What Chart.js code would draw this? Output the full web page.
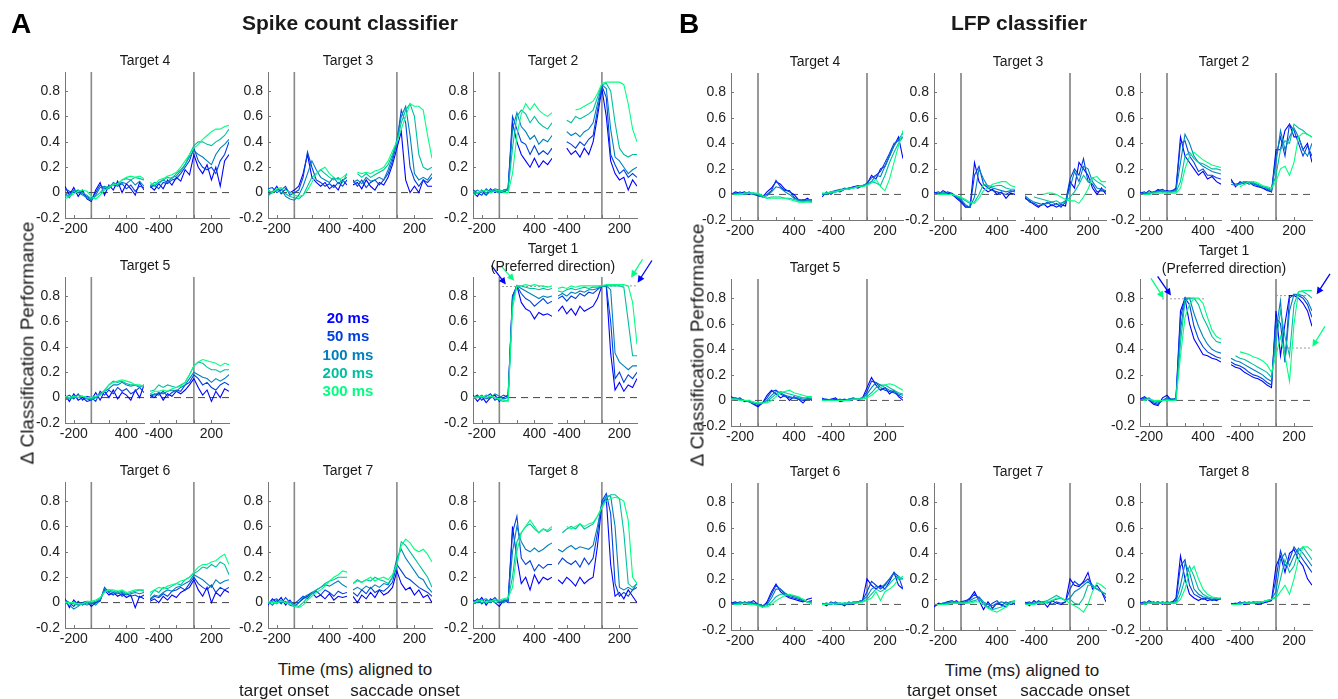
<!DOCTYPE html>
<html>
<head>
<meta charset="utf-8">
<script src="https://cdn.jsdelivr.net/npm/chart.js@4.4.1/dist/chart.umd.min.js"></script>
<style>
  body { margin: 0; background: #fff; }
  #fig { position: relative; width: 1338px; height: 699px; overflow: hidden; font-family: "Liberation Sans", Arial, sans-serif; color: #1a1a1a; }
  #fig canvas { position: absolute; }
  .txt { position: absolute; white-space: nowrap; transform: translate(-50%, -50%); line-height: 1; }
</style>
</head>
<body>
<div id="fig"></div>
<script>
// time bins (ms)
const tgtTimes = [-300,-250,-200,-150,-100,-50,0,50,100,150,200,250,300,350,400,450,500,550,600];
const sacTimes = [-500,-450,-400,-350,-300,-250,-200,-150,-100,-50,0,50,100,150,200,250,300,350,400];
const windowLabels = ["20 ms", "50 ms", "100 ms", "200 ms", "300 ms"];
const yTickValues = [-0.2, 0, 0.2, 0.4, 0.6, 0.8];
const tgtTickValues = [-200, 0, 200, 400];
const tgtTickLabels = [-200, 400];
const sacTickValues = [-400, -200, 0, 200];
const sacTickLabels = [-400, 200];

// ---- Spike count classifier: rows are 20, 50, 100, 200, 300 ms windows
const spk4T = [
  [.05,-.02,.04,-.03,.02,-.05,-.07,.02,.08,-.02,.06,.02,.09,.0,.07,.03,-.02,.08,.02],
  [.03,.01,.0,.02,-.01,-.03,-.05,.0,.06,.03,.04,.06,.05,.07,.03,.06,.01,.05,.04],
  [.0,-.04,.02,.0,-.02,-.04,-.06,-.02,.04,.05,.03,.08,.06,.08,.07,.1,.06,.09,.05],
  [-.03,-.02,.01,.02,.0,-.02,-.05,-.03,.0,.04,.05,.07,.06,.1,.11,.1,.12,.11,.1],
  [-.05,-.03,-.01,.01,.02,.01,-.03,-.05,-.02,.02,.04,.06,.07,.1,.12,.13,.12,.13,.11]];
const spk4S = [
  [.05,.02,.07,.03,.1,.06,.12,.09,.18,.14,.3,.2,.15,.22,.1,.2,.05,.25,.3],
  [.04,.06,.03,.08,.07,.1,.11,.15,.2,.25,.35,.25,.2,.18,.2,.15,.25,.3,.4],
  [.06,.05,.08,.1,.08,.12,.13,.17,.22,.28,.33,.3,.28,.25,.22,.3,.35,.38,.42],
  [.05,.08,.07,.1,.12,.11,.15,.18,.22,.3,.37,.4,.4,.38,.37,.4,.42,.45,.5],
  [.08,.06,.1,.11,.13,.14,.16,.2,.25,.3,.35,.38,.42,.45,.48,.5,.5,.52,.53]];
const spk3T = [
  [.02,.0,.05,-.01,.03,.0,.02,.05,.15,.3,.12,.08,.05,.08,.03,.06,.02,.1,.06],
  [.03,.04,.0,.02,.05,-.02,.0,.02,.12,.32,.2,.1,.08,.05,.07,.04,.08,.05,.1],
  [-.02,.0,.02,.03,-.03,-.05,-.06,-.02,.05,.15,.25,.18,.12,.1,.08,.12,.07,.1,.12],
  [-.03,.01,.02,.0,-.01,-.03,-.04,-.05,-.02,.05,.12,.15,.18,.15,.12,.1,.12,.08,.15],
  [.02,.0,.03,.04,.02,.0,-.02,-.03,-.02,.02,.08,.15,.18,.2,.15,.12,.1,.12,.15]];
const spk3S = [
  [.06,.08,.03,.1,.05,.02,.08,.06,.12,.22,.35,.48,.1,.0,.05,.0,.1,.05,.05],
  [.1,.05,.1,.04,.08,.1,.06,.1,.15,.25,.4,.65,.55,.2,.1,.05,.1,.08,.12],
  [.08,.1,.07,.12,.09,.1,.12,.1,.18,.28,.42,.6,.68,.45,.15,.1,.12,.1,.15],
  [null,.15,.12,.15,.12,.14,.16,.18,.22,.3,.4,.55,.65,.7,.6,.3,.2,.18,.2],
  [null,.16,.15,.16,.15,.17,.18,.2,.25,.33,.4,.5,.6,.7,.68,.68,.65,.45,.27]];
const spk2T = [
  [.0,-.03,.02,-.02,.03,.0,.02,.0,.03,.55,.4,.3,.25,.2,.27,.2,.25,.22,.27],
  [.02,.0,-.02,.03,.0,.02,.0,.02,.03,.6,.5,.4,.38,.3,.37,.3,.33,.3,.35],
  [.0,.02,.0,-.02,.01,.03,.02,.01,.02,.5,.63,.52,.48,.42,.45,.38,.42,.4,.45],
  [.01,-.01,.02,.0,.02,.01,.0,.02,.02,.35,.6,.65,.62,.55,.6,.55,.52,.5,.55],
  [-.02,.0,.01,.02,.0,.01,.02,.0,.0,.15,.45,.62,.7,.65,.7,.65,.62,.6,.63]];
const spk2S = [
  [null,null,.35,.3,.33,.28,.35,.3,.4,.6,.82,.6,.25,.15,.1,.12,.02,.1,.05],
  [null,null,.4,.38,.35,.4,.37,.42,.45,.65,.84,.75,.3,.22,.15,.18,.12,.15,.12],
  [null,null,.48,.45,.47,.44,.48,.5,.55,.7,.85,.82,.5,.28,.25,.2,.15,.18,.2],
  [null,null,.57,.55,.6,.58,.6,.62,.65,.75,.85,.86,.8,.55,.35,.3,.28,.3,.3],
  [null,null,null,null,.65,.66,.68,.7,.72,.78,.86,.87,.87,.87,.87,.85,.7,.5,.4]];
const spk5T = [
  [.02,-.03,.03,-.02,.0,-.03,-.02,.04,-.02,.05,.0,.06,-.01,.04,.02,-.02,.06,.0,.1],
  [.0,.02,-.01,.03,-.02,.01,.0,-.03,.05,.02,.06,.03,.08,.05,.07,.03,.05,.08,.04],
  [-.02,.0,.02,.0,.01,-.01,-.02,.0,.03,.05,.07,.1,.1,.12,.1,.09,.1,.08,.1],
  [.0,-.01,.0,.02,.01,.0,-.01,.0,.02,.06,.1,.13,.12,.13,.11,.1,.1,.09,.1],
  [.01,.0,.01,.0,.01,.0,.0,.01,.02,.05,.1,.12,.13,.14,.13,.12,.1,.1,.09]];
const spk5S = [
  [.02,.0,.04,-.02,.03,.01,.05,.03,.06,.1,.15,.08,.02,.06,-.03,.05,.0,.07,.05],
  [.0,.03,.02,.05,.01,.04,.06,.05,.1,.12,.18,.15,.1,.12,.08,.06,.1,.12,.1],
  [.03,.02,.04,.03,.05,.06,.05,.08,.1,.15,.2,.18,.16,.15,.12,.15,.13,.15,.18],
  [.05,.06,.1,.08,.1,.09,.08,.1,.12,.18,.25,.28,.27,.24,.22,.22,.2,.22,.22],
  [.03,.05,.05,.06,.05,.07,.08,.09,.12,.18,.25,.28,.3,.29,.28,.27,.25,.27,.26]];
const spk1T = [
  [.02,-.03,.01,-.04,.0,.02,-.03,.0,.02,.8,.88,.75,.7,.68,.62,.67,.65,.66,.64],
  [.0,.02,-.02,.01,.03,-.02,.0,.02,.0,.8,.88,.82,.78,.76,.72,.75,.78,.74,.76],
  [.01,.0,.02,-.01,.0,.03,.01,-.01,.0,.78,.88,.86,.84,.82,.8,.78,.8,.79,.8],
  [.0,.01,.0,.02,.01,.0,-.02,-.03,-.02,.75,.88,.88,.87,.86,.86,.85,.86,.85,.86],
  [.0,.0,.01,.0,.01,.0,-.01,-.02,-.03,.7,.88,.88,.89,.88,.89,.88,.88,.87,.88]];
const spk1S = [
  [.68,.72,.66,.7,.65,.72,.68,.7,.72,.78,.88,.88,.35,.06,.12,.05,.1,.08,.15],
  [.78,.8,.76,.8,.78,.82,.8,.83,.82,.85,.88,.88,.6,.15,.2,.12,.18,.15,.2],
  [.8,.82,.8,.83,.82,.84,.83,.85,.85,.86,.88,.88,.85,.35,.28,.25,.22,.25,.25],
  [.84,.83,.85,.86,.85,.86,.87,.86,.87,.87,.88,.88,.88,.88,.88,.87,.6,.33,.33],
  [.86,.87,.86,.88,.87,.88,.88,.88,.88,.88,.88,.89,.89,.89,.89,.89,.88,.75,.42]];
const spk6T = [
  [.03,-.04,.02,-.02,.0,.01,-.03,.0,.02,.1,.06,.08,.05,.07,.04,.06,-.04,.05,.03],
  [.02,.0,-.03,.01,-.02,.0,-.01,.0,.01,.12,.08,.06,.09,.05,.07,.05,.06,.04,.06],
  [.0,-.02,-.05,-.03,.0,-.02,.0,-.02,.02,.11,.09,.08,.07,.08,.06,.07,.08,.07,.08],
  [.01,.0,-.01,-.02,-.01,.0,.0,.01,.03,.09,.1,.09,.08,.09,.07,.08,.09,.1,.09],
  [.0,.0,.0,-.01,-.01,.01,.01,.02,.04,.08,.1,.1,.09,.1,.08,.09,.1,.1,.1]];
const spk6S = [
  [.01,.03,.0,.05,.02,.06,.04,.08,.1,.12,.18,.1,.05,.12,.0,.08,.05,.1,.08],
  [.02,.05,.04,.07,.05,.09,.1,.12,.1,.15,.2,.15,.12,.1,.14,.08,.12,.1,.12],
  [.03,.06,.05,.08,.1,.09,.12,.13,.15,.17,.22,.2,.18,.15,.12,.18,.15,.17,.18],
  [.05,.1,.08,.12,.11,.13,.15,.14,.18,.2,.23,.25,.28,.27,.3,.28,.32,.3,.22],
  [.08,.1,.12,.11,.13,.14,.15,.17,.18,.2,.24,.28,.3,.3,.32,.33,.36,.38,.3]];
const spk7T = [
  [-.02,.03,.0,.04,-.02,.02,-.03,.0,.03,.05,.08,.04,.06,.03,.07,.02,.05,.04,.05],
  [.0,.02,.03,-.01,.04,.0,-.01,.02,.05,.03,.07,.09,.06,.1,.08,.05,.09,.07,.08],
  [.01,-.02,.02,.0,.01,-.02,-.03,.0,.04,.06,.08,.1,.12,.14,.13,.15,.17,.14,.12],
  [.0,.01,-.01,.02,.0,.01,-.02,-.03,.0,.04,.07,.1,.12,.15,.17,.18,.2,.2,.2],
  [.01,.0,.0,.01,.0,-.01,-.03,-.04,-.02,.02,.05,.08,.1,.13,.17,.2,.22,.25,.24]];
const spk7S = [
  [.05,.0,.06,.03,.08,.04,.1,.06,.08,.12,.25,.15,.1,.12,.06,.1,.04,.06,.0],
  [.08,.05,.1,.07,.12,.08,.1,.09,.12,.16,.3,.25,.2,.18,.15,.12,.1,.08,.05],
  [.1,.12,.1,.13,.11,.14,.12,.15,.14,.2,.35,.42,.35,.3,.25,.2,.18,.12,.08],
  [.15,.18,.16,.18,.17,.2,.18,.17,.15,.2,.3,.48,.45,.4,.35,.3,.25,.2,.12],
  [.15,.17,.16,.18,.2,.17,.19,.2,.18,.22,.3,.45,.5,.47,.42,.4,.42,.38,.32]];
const spk8T = [
  [.02,.0,.04,-.02,.03,.0,-.03,.02,.0,.6,.35,.15,.2,.1,.22,.15,.2,.18,.2],
  [.0,.03,-.01,.02,.01,.04,.0,.01,.02,.55,.68,.35,.3,.33,.25,.3,.27,.3,.3],
  [.01,.0,.02,.03,.0,.02,.01,.0,.02,.4,.6,.48,.42,.4,.43,.4,.42,.45,.47],
  [-.01,.02,.0,.01,.02,.0,.01,.02,.03,.2,.48,.55,.6,.62,.58,.55,.58,.56,.58],
  [.0,.01,.02,.0,.01,.02,.02,.03,.04,.12,.4,.55,.6,.65,.6,.55,.58,.57,.6]];
const spk8S = [
  [.18,.15,.2,.17,.13,.2,.15,.18,.2,.45,.78,.82,.3,.05,.08,.03,.1,.05,.0],
  [.3,.35,.32,.3,.33,.28,.35,.3,.35,.55,.8,.86,.7,.15,.05,.08,.05,.1,.12],
  [.42,.4,.43,.45,.42,.44,.43,.42,.45,.6,.78,.84,.84,.6,.12,.1,.12,.1,.15],
  [null,.55,.58,.6,.58,.62,.58,.6,.62,.68,.75,.82,.85,.85,.82,.55,.15,.12,.15],
  [null,null,.6,.58,.6,.62,.6,.62,.63,.68,.75,.8,.82,.83,.82,.8,.65,.2,.15]];

// ---- LFP classifier
const lfp4T = [
  [.0,.02,.01,.02,.0,.01,-.01,-.02,.02,.05,.1,.08,.04,.02,.0,-.04,-.05,-.03,-.06],
  [.01,.0,.02,.0,.02,.0,-.01,-.01,.0,.03,.11,.06,.03,.03,-.02,-.05,-.04,-.05,-.05],
  [.0,.01,.0,.01,.01,.0,.0,-.02,-.01,.02,.06,.05,.02,.0,-.03,-.04,-.05,-.04,-.04],
  [.0,.0,.01,.0,.01,.01,.0,-.02,-.03,-.02,-.02,-.02,-.03,-.03,-.04,-.05,-.06,-.05,-.05],
  [.0,.0,.0,.01,.01,.01,.01,-.01,-.03,-.03,-.03,-.03,-.03,-.04,-.05,-.06,-.06,-.06,-.06]];
const lfp4S = [
  [-.02,.02,.0,.03,.02,.04,.05,.06,.05,.07,.08,.15,.12,.2,.22,.3,.38,.45,.28],
  [.0,.01,.02,.02,.03,.05,.04,.06,.07,.06,.09,.13,.15,.18,.25,.32,.4,.42,.45],
  [.01,.0,.02,.03,.04,.04,.05,.05,.06,.07,.08,.1,.15,.14,.22,.3,.38,.43,.48],
  [.0,.01,.01,.02,.03,.04,.05,.05,.06,.07,.08,.1,.09,.07,.15,.25,.33,.4,.45],
  [.01,.01,.02,.02,.03,.04,.04,.05,.06,.06,.07,.09,.12,.06,.03,.12,.25,.38,.5]];
const lfp3T = [
  [.02,.0,.03,.01,.0,-.03,-.06,-.1,-.1,.25,.1,.05,.02,.04,.0,.02,-.03,.01,.0],
  [.01,.02,.0,.02,.01,-.02,-.05,-.09,-.1,.15,.22,.08,.05,.03,.02,.01,.0,.02,.03],
  [.0,.01,.02,.0,.0,-.02,-.04,-.08,-.1,-.02,.2,.12,.06,.05,.04,.03,.02,.03,.02],
  [.0,.0,.01,.0,.0,-.01,-.03,-.05,-.07,-.06,.0,.08,.07,.06,.07,.07,.05,.04,.04],
  [.0,.0,.0,.0,.0,-.01,-.02,-.04,-.06,-.07,-.03,.03,.05,.08,.09,.1,.1,.07,.06]];
const lfp3S = [
  [-.03,-.05,-.08,-.1,-.07,-.1,-.08,-.1,-.08,-.09,.1,.05,.25,.2,.15,.05,.0,.05,.0],
  [-.02,-.06,-.07,-.09,-.08,-.06,-.09,-.07,-.1,-.06,.12,.2,.15,.28,.1,.08,.02,.03,.02],
  [-.01,-.04,-.06,-.07,-.08,-.07,-.06,-.08,-.07,-.05,.05,.18,.1,.22,.2,.1,.05,.04,.03],
  [null,null,-.02,-.03,-.04,-.05,-.06,-.05,-.07,-.06,-.02,.02,.08,.15,.1,.13,.1,.08,.05],
  [null,null,null,null,.0,.01,.01,.0,-.02,-.04,-.05,-.05,-.07,-.02,.04,.13,.14,.1,.1]];
const lfp2T = [
  [.02,.0,.03,.01,.04,.02,.03,.02,.05,.45,.3,.25,.2,.15,.18,.12,.14,.1,.08],
  [.01,.02,.0,.02,.03,.04,.02,.03,.04,.4,.42,.3,.25,.18,.2,.15,.15,.13,.12],
  [.0,.01,.01,.02,.02,.03,.02,.02,.03,.25,.47,.4,.3,.25,.22,.2,.18,.17,.16],
  [.0,.0,.01,.01,.02,.02,.02,.02,.02,.1,.3,.33,.28,.25,.24,.22,.2,.2,.19],
  [.0,.0,.0,.01,.01,.01,.01,.01,.01,.05,.2,.3,.33,.3,.27,.25,.23,.22,.21]];
const lfp2S = [
  [.12,.06,.1,.08,.1,.07,.06,.05,.03,.02,.35,.35,.5,.55,.45,.45,.35,.4,.25],
  [.1,.08,.09,.1,.08,.09,.07,.05,.04,.02,.3,.45,.3,.55,.5,.4,.3,.38,.3],
  [.08,.07,.08,.09,.1,.08,.07,.06,.05,.03,.25,.5,.35,.45,.52,.45,.35,.3,.4],
  [null,.07,.08,.1,.1,.09,.08,.06,.05,.04,.15,.35,.42,.4,.55,.52,.5,.47,.45],
  [null,null,.06,.08,.1,.1,.09,.07,.06,.05,.1,.2,.22,.15,.25,.45,.48,.47,.45]];
const lfp5T = [
  [.03,.01,.02,-.01,.0,-.03,-.05,-.02,.04,.08,.05,.02,.04,.0,.03,.01,-.02,.02,.0],
  [.02,.02,.01,.0,-.01,-.03,-.04,-.02,.02,.07,.08,.05,.03,.02,.02,.01,.0,.01,.01],
  [.02,.01,.01,.0,-.01,-.02,-.03,-.02,.0,.04,.07,.06,.04,.03,.02,.02,.01,.01,.01],
  [.01,.01,.01,.0,-.01,-.02,-.02,-.02,-.01,.02,.05,.07,.06,.05,.04,.03,.02,.02,.02],
  [.01,.01,.0,.0,.0,-.01,-.02,-.02,-.02,.0,.03,.06,.07,.08,.06,.05,.04,.03,.03]];
const lfp5S = [
  [.02,.0,.01,.02,-.01,.0,.01,.02,.0,.02,.1,.18,.12,.08,.1,.05,.08,.03,.0],
  [.01,.01,.0,.01,.0,.01,.0,.01,.01,.02,.07,.15,.14,.1,.08,.07,.06,.04,.02],
  [.01,.0,.01,.0,.01,.0,.01,.01,.01,.02,.05,.1,.14,.12,.1,.08,.07,.05,.04],
  [.0,.0,.0,.0,.0,.0,.01,.01,.01,.02,.03,.06,.1,.12,.12,.1,.08,.06,.05],
  [.0,.0,.0,.0,.0,.0,.0,.01,.01,.01,.02,.04,.07,.1,.12,.13,.12,.1,.08]];
const lfp1T = [
  [.01,.03,.0,-.03,-.04,.02,.04,.0,.02,.7,.8,.6,.48,.42,.36,.35,.33,.32,.3],
  [.0,.02,.01,-.02,-.03,.0,.02,.01,.01,.65,.8,.75,.58,.48,.42,.38,.36,.34,.33],
  [.0,.01,.02,-.01,-.02,.0,.01,.01,.01,.55,.8,.8,.68,.58,.5,.44,.4,.38,.37],
  [.0,.01,.01,.0,-.01,.0,.01,.0,.01,.45,.78,.8,.8,.75,.65,.58,.5,.46,.45],
  [.0,.0,.01,.0,.0,.0,.0,.0,.0,.35,.65,.75,.8,.8,.76,.65,.55,.5,.48]];
const lfp1S = [
  [.28,.26,.25,.22,.2,.18,.17,.15,.12,.1,.7,.35,.6,.82,.82,.8,.76,.7,.58],
  [.3,.28,.27,.25,.22,.2,.19,.17,.14,.12,.65,.6,.3,.8,.83,.82,.8,.75,.65],
  [.33,.31,.3,.28,.26,.24,.22,.2,.17,.15,.55,.78,.3,.7,.83,.83,.82,.78,.7],
  [null,.35,.33,.32,.3,.28,.26,.24,.22,.18,.45,.7,.5,.35,.75,.85,.85,.83,.8],
  [null,null,.38,.37,.36,.34,.33,.31,.28,.22,.35,.5,.35,.15,.6,.85,.86,.86,.86]];
const lfp6T = [
  [.01,.02,.0,.02,.01,.03,.0,-.02,.02,.1,.16,.1,.07,.05,.04,.03,.02,.04,.05],
  [.01,.01,.02,.01,.02,.01,.0,-.01,.01,.08,.15,.12,.08,.06,.05,.04,.03,.02,.03],
  [.0,.01,.01,.01,.01,.01,.0,-.01,.0,.05,.12,.12,.09,.07,.06,.05,.03,.02,.02],
  [.0,.0,.01,.01,.01,.0,.0,-.02,-.01,.02,.06,.08,.08,.07,.07,.05,.04,.02,.01],
  [.0,.0,.0,.01,.0,.0,-.01,-.02,-.02,.0,.03,.05,.07,.08,.07,.06,.04,.02,.0]];
const lfp6S = [
  [.01,-.01,.02,.0,.01,-.01,.02,.0,.02,.03,.2,.15,.12,.15,.12,.18,.25,.15,.12],
  [.0,.01,.0,.02,.0,.01,.0,.01,.02,.03,.1,.18,.15,.12,.15,.2,.25,.22,.12],
  [.01,.0,.01,.01,.0,.01,.01,.02,.02,.03,.06,.12,.14,.13,.16,.2,.24,.2,.2],
  [.0,.01,.0,.01,.01,.0,.01,.01,.02,.02,.04,.08,.12,.1,.12,.16,.2,.22,.2],
  [.0,.0,.01,.0,.01,.01,.01,.01,.01,.02,.03,.05,.1,.03,.1,.12,.15,.2,.22]];
const lfp7T = [
  [-.02,.01,.0,.02,.01,.03,.0,.02,.05,.1,.03,-.04,.02,-.03,.01,.0,-.02,.02,.0],
  [-.01,.0,.01,.02,.03,.01,.02,.03,.04,.08,.05,.0,-.02,.01,.03,-.01,.02,.0,.01],
  [.0,.0,.01,.01,.02,.02,.01,.02,.03,.05,.06,.02,.0,-.01,.01,.02,.01,.02,.02],
  [.0,.0,.0,.01,.01,.01,.01,.01,.02,.03,.04,.02,-.02,-.04,-.03,-.02,.0,.02,.03],
  [.0,.0,.0,.0,.01,.01,.01,.01,.01,.02,.02,.0,-.03,-.05,-.06,-.04,-.02,.01,.03]];
const lfp7S = [
  [.02,-.01,.03,.0,.02,-.02,.03,.01,.0,.02,.2,.15,.14,.18,.25,.12,.15,.1,.02],
  [.01,.02,.0,.03,.01,.02,.0,.02,.01,.02,.12,.18,.15,.17,.2,.15,.12,.1,.05],
  [.0,.01,.01,.02,.02,.01,.03,.04,.05,.03,.05,.1,.12,.15,.18,.14,.12,.1,.08],
  [.0,.0,.01,.01,.02,.03,.05,.07,.05,.03,.04,.01,.0,.05,.15,.15,.12,.1,.08],
  [.0,.0,.0,.01,.01,.02,.03,.05,.05,.03,.01,-.01,-.03,-.06,.0,.1,.17,.15,.12]];
const lfp8T = [
  [.02,.0,.03,.01,.02,.0,.02,.01,.05,.38,.2,.08,.05,.03,.05,.03,.04,.03,.05],
  [.01,.02,.01,.02,.01,.02,.01,.02,.03,.3,.35,.15,.08,.06,.04,.05,.03,.04,.04],
  [.0,.01,.02,.01,.02,.01,.02,.01,.02,.15,.32,.25,.12,.08,.06,.05,.04,.05,.04],
  [.0,.01,.01,.01,.01,.01,.01,.01,.01,.08,.2,.3,.22,.12,.08,.06,.05,.05,.04],
  [.0,.0,.01,.01,.01,.01,.01,.01,.01,.04,.12,.25,.3,.2,.12,.08,.06,.05,.05]];
const lfp8S = [
  [.01,.0,.02,.0,.01,.02,.0,.01,.02,.03,.3,.38,.25,.4,.43,.35,.3,.2,.15],
  [.0,.01,.0,.02,.01,.01,.02,.02,.02,.03,.2,.42,.3,.35,.45,.4,.35,.3,.25],
  [.0,.0,.01,.01,.02,.01,.01,.02,.03,.04,.1,.35,.4,.3,.38,.44,.4,.35,.3],
  [.0,.0,.01,.01,.01,.02,.02,.02,.03,.04,.06,.2,.35,.25,.3,.42,.45,.4,.35],
  [.0,.0,.0,.01,.01,.01,.02,.02,.03,.04,.05,.1,.15,.08,.2,.35,.45,.45,.42]];

// maximum-level guides [fromMs, toMs, level] and arrows in the preferred-direction plots
const spk1TGuides = [[30, 580, 0.875]];
const spk1SGuides = [[-45, 400, 0.88]];
const lfp1TGuides = [[-55, 425, 0.795]];
const lfp1SGuides = [[0, 400, 0.82], [45, 400, 0.41]];
const spk1TArrows = [{ w: 0, from: [-89, 1.04], to: [74, 0.89] }, { w: 4, from: [30, 1.03], to: [170, 0.92] }];
const spk1SArrows = [{ w: 4, from: [463, 1.09], to: [333, 0.945] }, { w: 0, from: [570, 1.08], to: [407, 0.905] }];
const lfp1TArrows = [{ w: 0, from: [-104, 0.97], to: [44, 0.82] }, { w: 4, from: [-178, 0.955], to: [-37, 0.8] }];
const lfp1SArrows = [{ w: 0, from: [600, 0.99], to: [452, 0.83] }, { w: 4, from: [544, 0.58], to: [404, 0.42] }];

// MATLAB "winter" colours for the five windows
const windowColors = ["rgb(0,0,255)", "rgb(0,64,223)", "rgb(0,128,191)", "rgb(0,191,159)", "rgb(0,255,128)"];
const Y_MIN = -0.2, Y_MAX = 0.95;
const FONT = '"Liberation Sans", Arial, sans-serif';

const panels = [
  { name: "A", title: "Spike count classifier", cols: [65, 268, 473], rows: [72, 277, 482], halfW: 79, gap: 6, plotH: 146,
    event: "#888", eventW: 1.6, zero: "#444",
    data: { 4: [spk4T, spk4S], 3: [spk3T, spk3S], 2: [spk2T, spk2S], 5: [spk5T, spk5S], 1: [spk1T, spk1S], 6: [spk6T, spk6S], 7: [spk7T, spk7S], 8: [spk8T, spk8S] },
    pref: { guides: [spk1TGuides, spk1SGuides], arrows: [spk1TArrows, spk1SArrows] } },
  { name: "B", title: "LFP classifier", cols: [731, 934, 1140], rows: [73, 279, 483], halfW: 81, gap: 10, plotH: 147,
    event: "#555", eventW: 1.2, zero: "#555",
    data: { 4: [lfp4T, lfp4S], 3: [lfp3T, lfp3S], 2: [lfp2T, lfp2S], 5: [lfp5T, lfp5S], 1: [lfp1T, lfp1S], 6: [lfp6T, lfp6S], 7: [lfp7T, lfp7S], 8: [lfp8T, lfp8S] },
    pref: { guides: [lfp1TGuides, lfp1SGuides], arrows: [lfp1TArrows, lfp1SArrows] } },
];
const cells = [
  { target: 4, row: 0, col: 0 }, { target: 3, row: 0, col: 1 }, { target: 2, row: 0, col: 2 },
  { target: 5, row: 1, col: 0 }, { target: 1, row: 1, col: 2 },
  { target: 6, row: 2, col: 0 }, { target: 7, row: 2, col: 1 }, { target: 8, row: 2, col: 2 },
];

const fig = document.getElementById("fig");

function addText(str, x, y, css) {
  const d = document.createElement("div");
  d.className = "txt";
  d.textContent = str;
  d.style.left = x + "px";
  d.style.top = y + "px";
  Object.assign(d.style, css || {});
  fig.appendChild(d);
  return d;
}

// inward tick marks + arrows
const decor = {
  id: "decor",
  afterDatasetsDraw(chart, args, o) {
    const { ctx, chartArea: a } = chart;
    const x = chart.scales.x, y = chart.scales.y;
    ctx.save();
    ctx.strokeStyle = "#777";
    ctx.lineWidth = 1;
    for (const t of x.ticks) {
      const px = Math.round(x.getPixelForValue(t.value)) + 0.5;
      ctx.beginPath(); ctx.moveTo(px, a.bottom); ctx.lineTo(px, a.bottom - 3); ctx.stroke();
    }
    if (o.showY) {
      for (const t of y.ticks) {
        const py = Math.round(y.getPixelForValue(t.value)) + 0.5;
        ctx.beginPath(); ctx.moveTo(a.left, py); ctx.lineTo(a.left + 3, py); ctx.stroke();
      }
    }
    for (const ar of o.arrows || []) {
      const x0 = x.getPixelForValue(ar.from[0]), y0 = y.getPixelForValue(ar.from[1]);
      const x1 = x.getPixelForValue(ar.to[0]), y1 = y.getPixelForValue(ar.to[1]);
      const ang = Math.atan2(y1 - y0, x1 - x0), L = 7, W = 3.5;
      ctx.strokeStyle = ctx.fillStyle = windowColors[ar.w];
      ctx.lineWidth = 1.3;
      ctx.beginPath(); ctx.moveTo(x0, y0);
      ctx.lineTo(x1 - L * 0.8 * Math.cos(ang), y1 - L * 0.8 * Math.sin(ang)); ctx.stroke();
      ctx.beginPath();
      ctx.moveTo(x1, y1);
      ctx.lineTo(x1 - L * Math.cos(ang) + W * Math.sin(ang), y1 - L * Math.sin(ang) - W * Math.cos(ang));
      ctx.lineTo(x1 - L * Math.cos(ang) - W * Math.sin(ang), y1 - L * Math.sin(ang) + W * Math.cos(ang));
      ctx.closePath(); ctx.fill();
    }
    ctx.restore();
  },
};

function makeHalf(o) {
  const yW = o.showY ? 45 : 0, padL = o.showY ? 0 : 22, padR = o.padR, padT = 22, xH = 24;
  const cv = document.createElement("canvas");
  cv.width = padL + yW + o.w + padR;
  cv.height = padT + o.h + xH;
  cv.style.left = (o.left - padL - yW) + "px";
  cv.style.top = (o.top - padT) + "px";
  fig.appendChild(cv);

  const datasets = [];
  o.curves.forEach((row, k) => {
    datasets.push({
      data: o.times.map((t, i) => ({ x: t, y: row[i] === undefined ? null : row[i] })),
      borderColor: windowColors[k], borderWidth: 1.1, order: 4 - k,
    });
  });
  (o.guides || []).forEach(g => datasets.push({
    data: [{ x: g[0], y: g[2] }, { x: g[1], y: g[2] }],
    borderColor: "#9a9a9a", borderDash: [2, 2], borderWidth: 1, order: 9,
  }));
  datasets.push({ data: [{ x: o.min, y: 0 }, { x: o.max, y: 0 }], borderColor: o.zero, borderDash: [7, 5], borderWidth: 1, order: 10 });
  datasets.push({ data: [{ x: 0, y: Y_MIN }, { x: 0, y: Y_MAX }], borderColor: o.event, borderWidth: o.eventW, order: 11 });

  new Chart(cv, {
    type: "line",
    data: { datasets },
    plugins: [decor],
    options: {
      responsive: false, animation: false, devicePixelRatio: 1, events: [],
      layout: { padding: { left: padL, right: padR, top: padT, bottom: 0 } },
      elements: { point: { radius: 0 }, line: { tension: 0 } },
      plugins: { legend: { display: false }, tooltip: { enabled: false }, decor: { showY: o.showY, arrows: o.arrows } },
      scales: {
        x: {
          type: "linear", min: o.min, max: o.max,
          grid: { display: false, drawTicks: false },
          border: { display: true, color: "#777", width: 1 },
          ticks: { padding: 3, color: "#222", font: { family: FONT, size: 14 }, maxRotation: 0, minRotation: 0, autoSkip: false,
                   callback: v => (o.labels.includes(v) ? String(v) : "") },
          afterBuildTicks: s => { s.ticks = o.tickValues.map(v => ({ value: v })); },
          afterFit: s => { s.height = xH; s.paddingLeft = 0; s.paddingRight = 0; },
        },
        y: {
          type: "linear", min: Y_MIN, max: Y_MAX, display: o.showY,
          grid: { display: false, drawTicks: false },
          border: { display: true, color: "#777", width: 1 },
          ticks: { padding: 5, color: "#222", font: { family: FONT, size: 14 }, autoSkip: false,
                   callback: v => String(Math.round(v * 10) / 10) },
          afterBuildTicks: s => { s.ticks = yTickValues.map(v => ({ value: v })); },
          afterFit: s => { s.width = yW; s.paddingTop = 0; s.paddingBottom = 0; },
        },
      },
    },
  });
}

panels.forEach(p => {
  cells.forEach(c => {
    const top = p.rows[c.row], left = p.cols[c.col];
    const [tgt, sac] = p.data[c.target];
    const pref = c.target === 1;
    const common = { top, w: p.halfW, h: p.plotH, event: p.event, eventW: p.eventW, zero: p.zero };
    makeHalf(Object.assign({}, common, {
      left, showY: true, padR: 3, times: tgtTimes, curves: tgt, min: -300, max: 600,
      tickValues: tgtTickValues, labels: tgtTickLabels,
      guides: pref ? p.pref.guides[0] : null, arrows: pref ? p.pref.arrows[0] : null,
    }));
    makeHalf(Object.assign({}, common, {
      left: left + p.halfW + p.gap, showY: false, padR: pref ? 28 : 3, times: sacTimes, curves: sac, min: -500, max: 400,
      tickValues: sacTickValues, labels: sacTickLabels,
      guides: pref ? p.pref.guides[1] : null, arrows: pref ? p.pref.arrows[1] : null,
    }));
    const cx = left + (2 * p.halfW + p.gap) / 2 - 2;
    if (pref) {
      addText("Target 1", cx, top - 29, { fontSize: "14px" });
      addText("(Preferred direction)", cx, top - 11, { fontSize: "14px" });
    } else {
      addText("Target " + c.target, cx, top - 12, { fontSize: "14px" });
    }
  });
});

// panel letters, titles, axis labels
addText("A", 21, 24, { fontSize: "28px", fontWeight: "bold", color: "#000" });
addText("B", 689, 24, { fontSize: "28px", fontWeight: "bold", color: "#000" });
addText("Spike count classifier", 350, 22, { fontSize: "21px", fontWeight: "bold" });
addText("LFP classifier", 1019, 22, { fontSize: "21px", fontWeight: "bold" });
addText("\u0394 Classification Performance", 27, 343, { fontSize: "19px", transform: "translate(-50%,-50%) rotate(-90deg)" });
addText("\u0394 Classification Performance", 697, 345, { fontSize: "19px", transform: "translate(-50%,-50%) rotate(-90deg)" });
addText("Time (ms) aligned to", 355, 669, { fontSize: "17px" });
addText("target onset", 284, 690, { fontSize: "17px" });
addText("saccade onset", 405, 690, { fontSize: "17px" });
addText("Time (ms) aligned to", 1022, 670, { fontSize: "17px" });
addText("target onset", 952, 690, { fontSize: "17px" });
addText("saccade onset", 1075, 690, { fontSize: "17px" });

// window-length legend
windowLabels.forEach((lab, k) => {
  addText(lab, 348, 317 + k * 18.3, { fontSize: "15px", fontWeight: "bold", color: windowColors[k] });
});
</script>
</body>
</html>
